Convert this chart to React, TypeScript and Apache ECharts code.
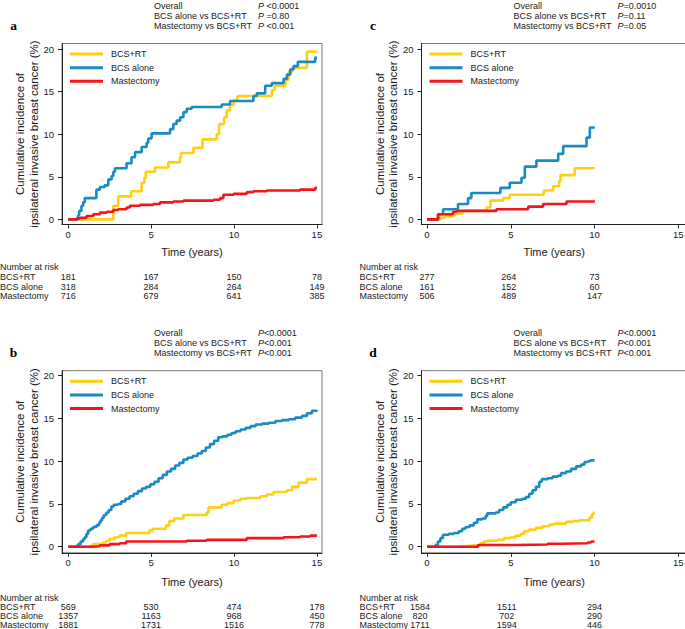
import React, { useEffect, useRef } from "react";
import * as echarts from "echarts";

// ---------- data ----------
const seriesNames = ["BCS+RT", "BCS alone", "Mastectomy"];
const seriesColors = ["#FFCF12", "#1A8AC2", "#F4141A"];
const xTicks = [0, 5, 10, 15];
const yTicks = [0, 5, 10, 15, 20];
const pLabels = ["Overall", "BCS alone vs BCS+RT", "Mastectomy vs BCS+RT"];
const yTitle1 = "Cumulative incidence of";
const yTitle2 = "ipsilateral invasive breast cancer (%)";
const xTitle = "Time (years)";
const riskTitle = "Number at risk";

// panel a
const aBcsRt = [[0,0],[2.72,1.6],[3.02,2.7],[3.8,3.3],[4.43,4.3],[4.6,4.9],[4.68,5.6],[5.23,6.1],[6.04,6.7],[6.74,7.3],[6.8,7.8],[7.55,8.4],[8.1,9.4],[8.96,10.0],[9.1,11.2],[9.4,12.0],[9.56,12.8],[9.76,13.4],[9.97,14.0],[10.2,14.5],[12.28,15.2],[12.45,15.7],[13.1,16.4],[13.3,17.3],[13.5,17.8],[14.4,19.7],[15,19.7]];
const aBcsAlone = [[0,0],[0.6,0.5],[0.66,1.0],[0.8,1.6],[0.9,2.0],[1.0,2.5],[1.7,3.5],[1.91,3.8],[2.2,4.0],[2.42,4.7],[2.62,5.1],[2.72,5.6],[2.82,6.0],[3.52,6.6],[3.82,7.3],[4.03,7.9],[4.43,8.5],[4.73,9.0],[4.83,9.5],[5.03,10.1],[6.14,10.6],[6.34,11.2],[6.54,11.6],[6.75,12.0],[6.95,12.6],[7.15,13.0],[7.45,13.2],[9.26,13.5],[9.76,13.9],[11.17,14.5],[11.37,14.8],[11.88,15.7],[12.28,16.0],[12.99,16.5],[13.19,17.0],[13.39,17.6],[13.59,18.0],[13.85,18.5],[14.9,19.0],[15,19.0]];
const aMastectomy = [[0,0],[0.5,0.1],[0.7,0.2],[1.11,0.4],[1.51,0.6],[1.91,0.8],[2.32,0.9],[2.72,1.1],[3.02,1.2],[3.52,1.4],[3.72,1.6],[4.33,1.7],[5.13,1.8],[5.54,2.0],[6.34,2.1],[6.95,2.2],[8.76,2.3],[9.16,2.5],[9.36,2.9],[9.97,3.0],[10.77,3.2],[11.17,3.3],[11.98,3.4],[13.99,3.5],[14.9,3.7],[15,3.7]];
const aPValues = [" <0.0001", " =0.80", " <0.001"];
const aRiskTimes = [0, 5, 10, 15];
const aRiskBcsRt = [181, 167, 150, 78];
const aRiskBcsAlone = [318, 284, 264, 149];
const aRiskMastectomy = [716, 679, 641, 385];

// panel c
const cBcsRt = [[0,0],[0.76,0.2],[1.06,0.4],[1.65,0.7],[2.15,1.0],[3.55,1.4],[3.78,2.2],[4.54,2.5],[4.94,2.9],[6.97,3.4],[7.53,3.9],[7.89,4.5],[7.97,5.2],[8.82,6.0],[10.02,6.0]];
const cBcsAlone = [[0,0],[0.66,0.6],[0.96,1.2],[1.85,1.8],[2.45,2.5],[2.65,3.1],[4.38,3.7],[4.94,4.3],[5.64,4.9],[5.84,6.2],[6.53,6.9],[7.83,7.7],[8.13,8.6],[9.52,9.6],[9.72,10.8],[10.02,10.8]];
const cMastectomy = [[0,0],[0.66,0.6],[1.55,0.9],[1.75,1.0],[4.14,1.2],[6.04,1.5],[6.93,1.8],[8.33,2.1],[10.02,2.1]];
const cPValues = ["=0.0010", "=0.11", "=0.05"];
const cRiskTimes = [0, 5, 10];
const cRiskBcsRt = [277, 264, 73];
const cRiskBcsAlone = [161, 152, 60];
const cRiskMastectomy = [506, 489, 147];

// panel b
const bBcsRt = [[0,0],[1.3,0.1],[1.5,0.3],[2.1,0.5],[2.3,0.7],[2.5,0.9],[2.8,1.1],[3.1,1.3],[3.5,1.6],[4.9,1.9],[5.1,2.1],[5.9,2.5],[6.1,3.0],[6.4,3.3],[6.95,3.7],[8.35,4.0],[8.46,4.6],[9.26,4.9],[9.6,5.1],[9.97,5.4],[10.4,5.6],[10.77,5.7],[11.58,5.9],[11.98,6.1],[12.38,6.4],[13.19,6.6],[13.5,7.0],[13.9,7.5],[14.4,7.9],[15,7.9]];
const bBcsAlone = [[0,0],[0.5,0.1],[0.6,0.3],[0.75,0.6],[0.9,0.9],[1.0,1.1],[1.1,1.5],[1.2,1.9],[1.35,2.1],[1.5,2.3],[1.7,2.5],[1.85,2.8],[1.95,3.1],[2.05,3.4],[2.15,3.7],[2.3,4.0],[2.45,4.3],[2.6,4.7],[2.75,4.9],[3.0,5.0],[3.2,5.3],[3.45,5.6],[3.7,5.9],[3.95,6.2],[4.2,6.5],[4.45,6.8],[4.7,7.0],[4.95,7.3],[5.2,7.6],[5.45,8.0],[5.7,8.4],[5.95,8.8],[6.2,9.1],[6.45,9.5],[6.7,9.8],[6.95,10.2],[7.2,10.4],[7.5,10.6],[7.8,10.9],[8.05,11.2],[8.3,11.6],[8.55,12.0],[8.8,12.4],[9.05,12.8],[9.3,12.9],[9.6,13.1],[9.85,13.3],[10.1,13.5],[10.4,13.7],[10.7,13.9],[11.0,14.1],[11.3,14.3],[11.7,14.4],[12.1,14.5],[12.5,14.7],[12.9,14.8],[13.3,14.9],[13.7,15.1],[14.1,15.3],[14.4,15.6],[14.7,15.9],[15,16.0]];
const bMastectomy = [[0,0],[1.5,0.05],[1.9,0.15],[2.5,0.3],[3.1,0.4],[3.5,0.6],[5.9,0.6],[7.15,0.7],[8.35,0.8],[10.77,1.0],[12.99,1.1],[13.99,1.2],[14.6,1.3],[15,1.3]];
const bPValues = ["<0.0001", "<0.001", "<0.001"];
const bRiskTimes = [0, 5, 10, 15];
const bRiskBcsRt = [569, 530, 474, 178];
const bRiskBcsAlone = [1357, 1163, 968, 450];
const bRiskMastectomy = [1881, 1731, 1516, 778];

// panel d
const dBcsRt = [[0,0],[1.7,0.05],[2.0,0.1],[2.5,0.15],[2.8,0.2],[3.2,0.4],[3.4,0.6],[3.6,0.7],[4.2,0.8],[4.6,1.0],[5.0,1.1],[5.3,1.3],[5.6,1.5],[5.8,1.8],[6.1,2.0],[6.5,2.2],[6.9,2.4],[7.3,2.6],[7.6,2.7],[8.3,2.9],[8.7,3.0],[9.1,3.1],[9.7,3.4],[9.85,3.8],[9.95,4.0],[10.0,4.0]];
const dBcsAlone = [[0,0],[0.5,0.2],[0.65,0.6],[0.8,1.0],[0.95,1.4],[1.3,1.5],[1.6,1.6],[1.9,1.8],[2.1,2.1],[2.3,2.3],[2.55,2.5],[2.8,2.8],[3.0,3.2],[3.3,3.3],[3.5,3.6],[3.6,3.9],[4.1,4.0],[4.3,4.3],[4.55,4.6],[4.8,4.9],[5.0,5.2],[5.3,5.5],[5.7,5.6],[5.9,5.8],[6.1,6.2],[6.3,6.6],[6.5,7.0],[6.7,7.6],[6.85,7.9],[7.2,8.0],[7.5,8.2],[7.8,8.3],[8.0,8.6],[8.3,8.8],[8.6,9.1],[8.9,9.4],[9.2,9.6],[9.4,9.9],[9.6,10.0],[9.75,10.1],[10.0,10.1]];
const dMastectomy = [[0,0],[3.05,0.2],[5.4,0.25],[7.2,0.35],[8.0,0.4],[9.6,0.5],[9.8,0.6],[10.0,0.6]];
const dPValues = ["<0.0001", "<0.001", "<0.001"];
const dRiskTimes = [0, 5, 10];
const dRiskBcsRt = [1584, 1511, 294];
const dRiskBcsAlone = [820, 702, 290];
const dRiskMastectomy = [1711, 1594, 446];

// ---------- layout ----------
const SANS = '"Liberation Sans", Arial, Helvetica, sans-serif';
const SERIF = '"Liberation Serif", "Times New Roman", serif';
const TXT = "#1a1a1a";
const SMALL = 9;

const topRow = { T: 43.5, B: 224.5, y0: 219.4, y20: 49.1, pY: 5.5, timeY: 252.3, riskHeadY: 266.7, riskRows: [277, 286.7, 296.3] };
const botRow = { T: 370.7, B: 552.8, y0: 546.7, y20: 375.7, pY: 332.5, timeY: 582.3, riskHeadY: 597.5, riskRows: [606.8, 615.8, 624.6] };
const leftCol = { L: 62, R: 322, x0: 68.2, x15: 316.9 };
const rightCol = { L: 421.5, R: 687, x0: 427, x15: 678.3 };

const panels = [
  { letter: "a", row: topRow, col: leftCol, lines: [aBcsRt, aBcsAlone, aMastectomy], p: aPValues, riskT: aRiskTimes, risk: [aRiskBcsRt, aRiskBcsAlone, aRiskMastectomy], riskShift: [0, 0, 0, 0] },
  { letter: "c", row: topRow, col: rightCol, lines: [cBcsRt, cBcsAlone, cMastectomy], p: cPValues, riskT: cRiskTimes, risk: [cRiskBcsRt, cRiskBcsAlone, cRiskMastectomy], riskShift: [0, -2, 0] },
  { letter: "b", row: botRow, col: leftCol, lines: [bBcsRt, bBcsAlone, bMastectomy], p: bPValues, riskT: bRiskTimes, risk: [bRiskBcsRt, bRiskBcsAlone, bRiskMastectomy], riskShift: [0, 0, 0, 0] },
  { letter: "d", row: botRow, col: rightCol, lines: [dBcsRt, dBcsAlone, dMastectomy], p: dPValues, riskT: dRiskTimes, risk: [dRiskBcsRt, dRiskBcsAlone, dRiskMastectomy], riskShift: [-7, -4, 0] },
];

function buildOption() {
  const grid: any[] = [];
  const xAxis: any[] = [];
  const yAxis: any[] = [];
  const series: any[] = [];
  const graphic: any[] = [];

  panels.forEach((pn, i) => {
    const { L, R, x0, x15 } = pn.col;
    const { T, B, y0, y20 } = pn.row;
    const pxPerX = (x15 - x0) / 15;
    const pxPerY = (y0 - y20) / 20;
    grid.push({
      left: L, top: T, width: R - L, height: B - T,
      show: true, borderColor: "#7a7a7a", borderWidth: 1, backgroundColor: "transparent",
      containLabel: false, outerBoundsMode: "none",
    });
    xAxis.push({
      type: "value", gridIndex: i,
      min: -(x0 - L) / pxPerX, max: 15 + (R - x15) / pxPerX,
      axisLine: { show: true, onZero: false, lineStyle: { color: "#222", width: 1 } },
      axisTick: { show: true, customValues: xTicks, length: 4, lineStyle: { color: "#222" } },
      axisLabel: { show: true, customValues: xTicks, margin: 5, fontSize: 9.5, fontFamily: SANS, color: TXT },
      splitLine: { show: false },
    });
    yAxis.push({
      type: "value", gridIndex: i,
      min: -(B - y0) / pxPerY, max: 20 + (y20 - T) / pxPerY,
      axisLine: { show: true, onZero: false, lineStyle: { color: "#222", width: 1 } },
      axisTick: { show: true, customValues: yTicks, length: 4, lineStyle: { color: "#222" } },
      axisLabel: { show: true, customValues: yTicks, margin: 8, fontSize: 9.5, fontFamily: SANS, color: TXT },
      splitLine: { show: false },
    });
    pn.lines.forEach((d, k) => {
      series.push({
        type: "line", name: seriesNames[k], xAxisIndex: i, yAxisIndex: i,
        data: d, step: "end", symbol: "none", showSymbol: false, silent: true,
        lineStyle: { width: 2.6, color: seriesColors[k] }, itemStyle: { color: seriesColors[k] },
        z: 2 + k,
      });
    });

    const xpx = (t: number) => x0 + t * pxPerX;

    // panel letter
    graphic.push({ type: "text", x: L - 48.5, y: pn.row.pY + 20, style: { text: pn.letter, font: `bold 13.5px ${SERIF}`, fill: "#000", align: "center", verticalAlign: "middle" } });
    // p-values
    pLabels.forEach((lab, k) => {
      const y = pn.row.pY + k * 10;
      graphic.push({ type: "text", x: L + 92, y, style: { text: lab, font: `${SMALL}px ${SANS}`, fill: TXT, align: "left", verticalAlign: "middle" } });
      graphic.push({
        type: "text", x: L + 196, y,
        style: {
          text: `{i|P}{n|${pn.p[k]}}`, fill: TXT, align: "left", verticalAlign: "middle", font: `${SMALL}px ${SANS}`,
          rich: { i: { fontStyle: "italic", fontSize: SMALL, fontFamily: SANS, fill: TXT }, n: { fontSize: SMALL, fontFamily: SANS, fill: TXT } },
        },
      });
    });
    // legend
    const legY = [T + 10.5, T + 24.2, T + 37.8];
    seriesNames.forEach((nm, k) => {
      graphic.push({ type: "line", shape: { x1: L + 8, y1: legY[k], x2: L + 41, y2: legY[k] }, style: { stroke: seriesColors[k], lineWidth: 3 }, z: 10 });
      graphic.push({ type: "text", x: L + 49, y: legY[k], style: { text: nm, font: `${SMALL}px ${SANS}`, fill: TXT, align: "left", verticalAlign: "middle" }, z: 10 });
    });
    // y title
    const cy = (T + B) / 2;
    graphic.push({ type: "text", x: L - 42, y: cy, rotation: Math.PI / 2, style: { text: yTitle1, font: `11.5px ${SANS}`, fill: TXT, align: "center", verticalAlign: "middle" } });
    graphic.push({ type: "text", x: L - 28.5, y: cy, rotation: Math.PI / 2, style: { text: yTitle2, font: `11.5px ${SANS}`, fill: TXT, align: "center", verticalAlign: "middle" } });
    // x title
    graphic.push({ type: "text", x: (L + R) / 2, y: pn.row.timeY, style: { text: xTitle, font: `11px ${SANS}`, fill: TXT, align: "center", verticalAlign: "middle" } });
    // number at risk
    graphic.push({ type: "text", x: L - 62, y: pn.row.riskHeadY, style: { text: riskTitle, font: `${SMALL}px ${SANS}`, fill: TXT, align: "left", verticalAlign: "middle" } });
    seriesNames.forEach((nm, k) => {
      const y = pn.row.riskRows[k];
      graphic.push({ type: "text", x: L - 62, y, style: { text: nm, font: `${SMALL}px ${SANS}`, fill: TXT, align: "left", verticalAlign: "middle" } });
      pn.risk[k].forEach((v, j) => {
        graphic.push({ type: "text", x: xpx(pn.riskT[j]) + pn.riskShift[j], y, style: { text: String(v), font: `${SMALL}px ${SANS}`, fill: TXT, align: "center", verticalAlign: "middle" } });
      });
    });
  });

  return { animation: false, backgroundColor: "#fff", grid, xAxis, yAxis, series, graphic };
}

export default function App() {
  const ref = useRef<HTMLDivElement>(null);
  useEffect(() => {
    if (!ref.current) return;
    const chart = echarts.init(ref.current, null, { renderer: "svg" });
    chart.setOption(buildOption() as any);
    return () => chart.dispose();
  }, []);
  return <div ref={ref} style={{ position: "fixed", left: 0, top: 0, width: 685, height: 629, background: "#fff" }} />;
}
